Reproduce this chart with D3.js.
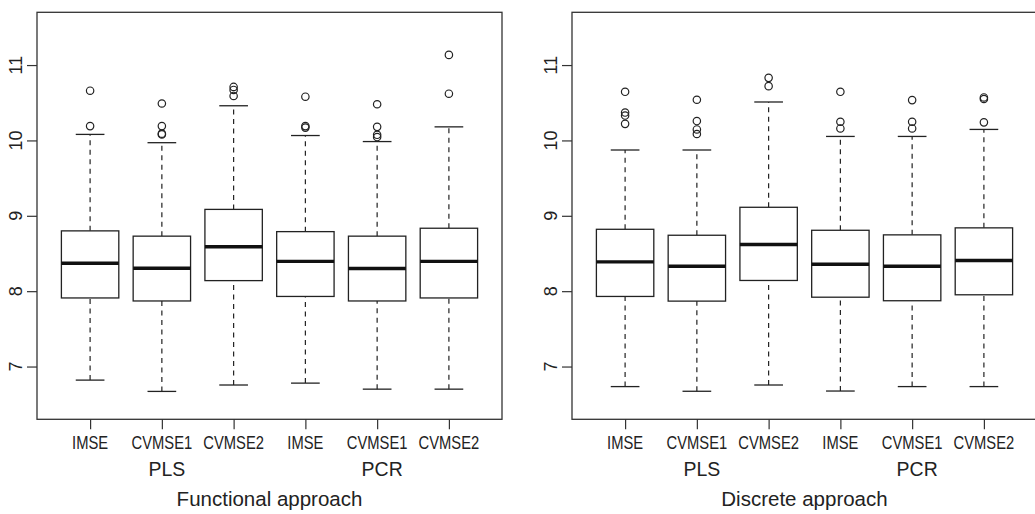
<!DOCTYPE html>
<html>
<head>
<meta charset="utf-8">
<script src="https://cdn.jsdelivr.net/npm/d3@7"></script>
<style>
    body { margin: 0; background: #fff; }
    text { font-family: "Liberation Sans", Arial, Helvetica, sans-serif; fill: #222; }
</style>
</head>
<body>
<div id="chart"></div>
<script>
const width = 1035,
    height = 514;

// boxes: PLS (IMSE, CVMSE1, CVMSE2), then PCR (IMSE, CVMSE1, CVMSE2)
const criteria = ["IMSE", "CVMSE1", "CVMSE2", "IMSE", "CVMSE1", "CVMSE2"];
const methods = ["PLS", "PCR"];
const methodPos = [2, 5];
const yTicks = [7, 8, 9, 10, 11];

// Functional approach
const funcLow = [6.82, 6.67, 6.755, 6.78, 6.70, 6.70];
const funcQ1 = [7.91, 7.87, 8.14, 7.93, 7.87, 7.91];
const funcMed = [8.37, 8.305, 8.59, 8.395, 8.30, 8.395];
const funcQ3 = [8.80, 8.73, 9.085, 8.79, 8.73, 8.835];
const funcHigh = [10.08, 9.97, 10.46, 10.065, 9.985, 10.18];
const funcOut = [
    [10.19, 10.66],
    [10.08, 10.09, 10.19, 10.49],
    [10.59, 10.67, 10.71],
    [10.17, 10.19, 10.58],
    [10.045, 10.075, 10.18, 10.48],
    [10.62, 11.135],
];

// Discrete approach
const discLow = [6.734, 6.672, 6.755, 6.675, 6.734, 6.734];
const discQ1 = [7.93, 7.868, 8.142, 7.92, 7.873, 7.952];
const discMed = [8.389, 8.331, 8.619, 8.358, 8.331, 8.407];
const discQ3 = [8.821, 8.742, 9.113, 8.808, 8.747, 8.84];
const discHigh = [9.873, 9.873, 10.51, 10.053, 10.053, 10.146];
const discOut = [
    [10.22, 10.33, 10.37, 10.645],
    [10.085, 10.146, 10.257, 10.54],
    [10.72, 10.83],
    [10.159, 10.248, 10.645],
    [10.159, 10.248, 10.535],
    [10.24, 10.55, 10.57],
];

const panels = [
    { title: "Functional approach", left: 37, right: 502,
      low: funcLow, q1: funcQ1, med: funcMed, q3: funcQ3, high: funcHigh, out: funcOut },
    { title: "Discrete approach", left: 572, right: 1037,
      low: discLow, q1: discQ1, med: discMed, q3: discQ3, high: discHigh, out: discOut },
];

const plotTop = 12.3, plotBottom = 419.3;
const ink = "#222";

const svg = d3
    .select("#chart")
    .append("svg")
    .attr("width", width)
    .attr("height", height);

svg.append("rect").attr("width", width).attr("height", height).attr("fill", "#fff");

const yScale = d3.scaleLinear().domain([6.3, 11.7]).range([plotBottom, plotTop]);

panels.forEach((p) => {
    const xScale = d3.scaleLinear().domain([0.26, 6.74]).range([p.left, p.right]);
    const boxW = xScale(0.8) - xScale(0);
    const g = svg.append("g");

    const boxes = criteria.map((c, i) => ({
        x: i + 1, label: c,
        low: p.low[i], q1: p.q1[i], med: p.med[i], q3: p.q3[i], high: p.high[i], out: p.out[i],
    }));

    // dashed whiskers
    g.selectAll(".whisk")
        .data(boxes.flatMap((d) => [[d.x, d.low, d.q1], [d.x, d.q3, d.high]]))
        .join("line")
        .attr("x1", (d) => xScale(d[0]))
        .attr("x2", (d) => xScale(d[0]))
        .attr("y1", (d) => yScale(d[1]))
        .attr("y2", (d) => yScale(d[2]))
        .attr("stroke", ink)
        .attr("stroke-width", 1.2)
        .attr("stroke-dasharray", "5,4.5");

    // staples
    g.selectAll(".staple")
        .data(boxes.flatMap((d) => [[d.x, d.low], [d.x, d.high]]))
        .join("line")
        .attr("x1", (d) => xScale(d[0]) - boxW / 4)
        .attr("x2", (d) => xScale(d[0]) + boxW / 4)
        .attr("y1", (d) => yScale(d[1]))
        .attr("y2", (d) => yScale(d[1]))
        .attr("stroke", ink)
        .attr("stroke-width", 1.3);

    // boxes
    g.selectAll(".box")
        .data(boxes)
        .join("rect")
        .attr("x", (d) => xScale(d.x) - boxW / 2)
        .attr("width", boxW)
        .attr("y", (d) => yScale(d.q3))
        .attr("height", (d) => yScale(d.q1) - yScale(d.q3))
        .attr("fill", "#fff")
        .attr("stroke", ink)
        .attr("stroke-width", 1.3);

    // medians
    g.selectAll(".med")
        .data(boxes)
        .join("line")
        .attr("x1", (d) => xScale(d.x) - boxW / 2)
        .attr("x2", (d) => xScale(d.x) + boxW / 2)
        .attr("y1", (d) => yScale(d.med))
        .attr("y2", (d) => yScale(d.med))
        .attr("stroke", "#111")
        .attr("stroke-width", 3.4);

    // outliers
    g.selectAll(".out")
        .data(boxes.flatMap((d) => d.out.map((v) => [d.x, v])))
        .join("circle")
        .attr("cx", (d) => xScale(d[0]))
        .attr("cy", (d) => yScale(d[1]))
        .attr("r", 3.7)
        .attr("fill", "none")
        .attr("stroke", ink)
        .attr("stroke-width", 1.2);

    // frame (right side of second panel falls off the picture)
    g.append("rect")
        .attr("x", p.left)
        .attr("y", plotTop)
        .attr("width", p.right - p.left)
        .attr("height", plotBottom - plotTop)
        .attr("fill", "none")
        .attr("stroke", "#333")
        .attr("stroke-width", 1.3);

    // y axis
    const yAxis = g.append("g")
        .attr("transform", `translate(${p.left},0)`)
        .call(d3.axisLeft(yScale).tickValues(yTicks).tickSize(10).tickFormat(""));
    yAxis.select(".domain").remove();
    yAxis.selectAll("line").attr("stroke", "#333").attr("stroke-width", 1.2);
    g.selectAll(".ylab")
        .data(yTicks)
        .join("text")
        .attr("transform", (d) => `translate(${p.left - 15},${yScale(d)}) rotate(-90)`)
        .attr("text-anchor", "middle")
        .style("font-size", "18px")
        .text((d) => d);

    // x axis ticks
    const xAxis = g.append("g")
        .attr("transform", `translate(0,${plotBottom})`)
        .call(d3.axisBottom(xScale).tickValues(d3.range(1, 7)).tickSize(10).tickFormat(""));
    xAxis.select(".domain").remove();
    xAxis.selectAll("line").attr("stroke", "#333").attr("stroke-width", 1.2);

    g.selectAll(".xlab")
        .data(boxes)
        .join("text")
        .attr("transform", (d) => `translate(${xScale(d.x)},448.5) scale(0.82,1)`)
        .attr("text-anchor", "middle")
        .style("font-size", "18px")
        .text((d) => d.label);

    g.selectAll(".mlab")
        .data(methods)
        .join("text")
        .attr("transform", (d, i) => `translate(${xScale(methodPos[i]) + 5},475.5) scale(0.95,1)`)
        .attr("text-anchor", "middle")
        .style("font-size", "20.5px")
        .text((d) => d);

    g.append("text")
        .attr("x", (p.left + p.right) / 2)
        .attr("y", 505.5)
        .attr("text-anchor", "middle")
        .style("font-size", "20.5px")
        .text(p.title);
});
</script>
</body>
</html>
